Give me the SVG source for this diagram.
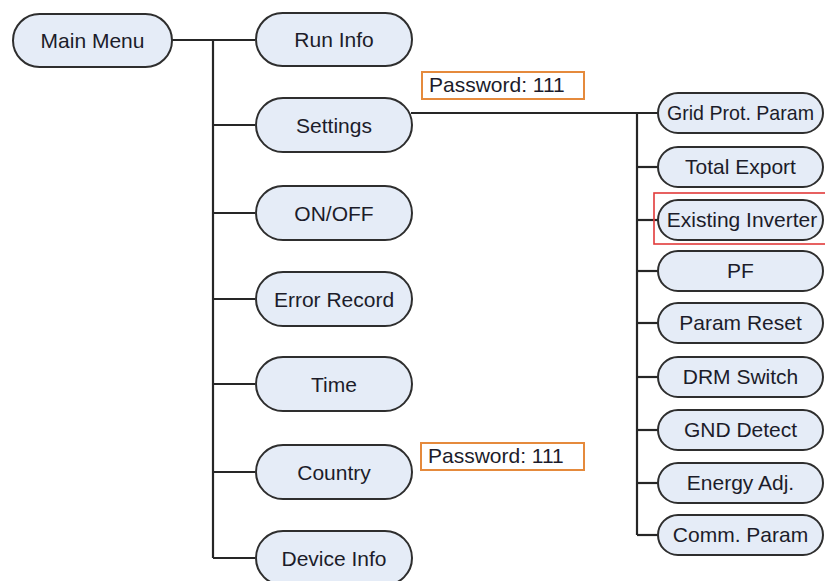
<svg xmlns="http://www.w3.org/2000/svg" width="825" height="581" viewBox="0 0 825 581">
  <style>
    .node rect { fill: #e5ecf7; stroke: #2e2e2e; stroke-width: 2; }
    .node text { font-family: "Liberation Sans", Arial, sans-serif; font-size: 21px; fill: #1c1c2a; text-anchor: middle; }
    .conn line { stroke: #262626; stroke-width: 2.2; }
    .note rect { fill: #ffffff; stroke: #e58a3c; stroke-width: 2; }
    .note text { font-family: "Liberation Sans", Arial, sans-serif; font-size: 21px; fill: #1c1c2a; }
    .mark { fill: none; stroke: #e23a3a; stroke-width: 1.6; }
  </style>

  <!-- connectors -->
  <g id="connectors" class="conn">
    <line x1="172" y1="40" x2="255" y2="40"/>
    <line x1="213" y1="40" x2="213" y2="558"/>
    <line x1="213" y1="125" x2="255" y2="125"/>
    <line x1="213" y1="213" x2="255" y2="213"/>
    <line x1="213" y1="299" x2="255" y2="299"/>
    <line x1="213" y1="384" x2="255" y2="384"/>
    <line x1="213" y1="472" x2="255" y2="472"/>
    <line x1="213" y1="558" x2="255" y2="558"/>
    <line x1="411" y1="113" x2="658" y2="113"/>
    <line x1="637" y1="113" x2="637" y2="535"/>
    <line x1="637" y1="167" x2="658" y2="167"/>
    <line x1="637" y1="220" x2="658" y2="220"/>
    <line x1="637" y1="271" x2="658" y2="271"/>
    <line x1="637" y1="323" x2="658" y2="323"/>
    <line x1="637" y1="377" x2="658" y2="377"/>
    <line x1="637" y1="430" x2="658" y2="430"/>
    <line x1="637" y1="483" x2="658" y2="483"/>
    <line x1="637" y1="535" x2="658" y2="535"/>
  </g>

  <!-- main menu column -->
  <g id="main-menu" class="node"><rect x="13" y="14" width="159" height="53" rx="26.5"/><text x="92.5" y="48">Main Menu</text></g>
  <g id="run-info" class="node"><rect x="256" y="13" width="156" height="53" rx="26.5"/><text x="334" y="47">Run Info</text></g>
  <g id="settings" class="node"><rect x="256" y="98" width="156" height="54" rx="27"/><text x="334" y="133">Settings</text></g>
  <g id="on-off" class="node"><rect x="256" y="186" width="156" height="54" rx="27"/><text x="334" y="221">ON/OFF</text></g>
  <g id="error-record" class="node"><rect x="256" y="272" width="156" height="54" rx="27"/><text x="334" y="307">Error Record</text></g>
  <g id="time" class="node"><rect x="256" y="357" width="156" height="54" rx="27"/><text x="334" y="392">Time</text></g>
  <g id="country" class="node"><rect x="256" y="445" width="156" height="54" rx="27"/><text x="334" y="480">Country</text></g>
  <g id="device-info" class="node"><rect x="256" y="531" width="156" height="54" rx="27"/><text x="334" y="566">Device Info</text></g>

  <!-- settings submenu -->
  <g id="grid-prot-param" class="node"><rect x="658" y="93" width="165" height="40" rx="20"/><text x="740.5" y="120" textLength="147" lengthAdjust="spacingAndGlyphs">Grid Prot. Param</text></g>
  <g id="total-export" class="node"><rect x="658" y="147" width="165" height="40" rx="20"/><text x="740.5" y="174">Total Export</text></g>
  <g id="existing-inverter" class="node"><rect x="658" y="200" width="165" height="40" rx="20"/><text x="742" y="227">Existing Inverter</text></g>
  <g id="pf" class="node"><rect x="658" y="251" width="165" height="40" rx="20"/><text x="740.5" y="278">PF</text></g>
  <g id="param-reset" class="node"><rect x="658" y="303" width="165" height="40" rx="20"/><text x="740.5" y="330">Param Reset</text></g>
  <g id="drm-switch" class="node"><rect x="658" y="357" width="165" height="40" rx="20"/><text x="740.5" y="384">DRM Switch</text></g>
  <g id="gnd-detect" class="node"><rect x="658" y="410" width="165" height="40" rx="20"/><text x="740.5" y="437">GND Detect</text></g>
  <g id="energy-adj" class="node"><rect x="658" y="463" width="165" height="40" rx="20"/><text x="740.5" y="490">Energy Adj.</text></g>
  <g id="comm-param" class="node"><rect x="658" y="515" width="165" height="40" rx="20"/><text x="740.5" y="542">Comm. Param</text></g>

  <!-- highlight around Existing Inverter -->
  <rect id="highlight" class="mark" x="654" y="193" width="175" height="51"/>

  <!-- password notes -->
  <g id="password-settings" class="note"><rect x="422" y="72" width="162" height="27"/><text x="429" y="92">Password: 111</text></g>
  <g id="password-country" class="note"><rect x="421" y="443" width="163" height="27"/><text x="428" y="463">Password: 111</text></g>
</svg>
